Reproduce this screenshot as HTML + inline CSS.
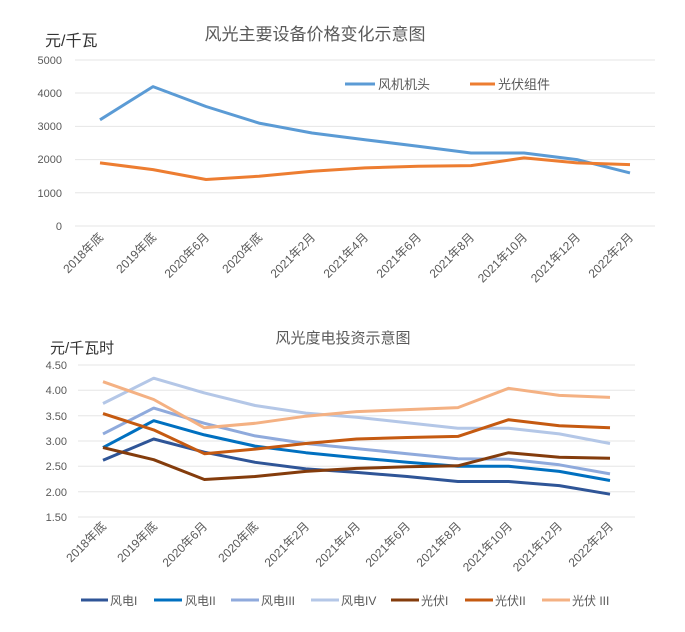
<!DOCTYPE html>
<html><head><meta charset="utf-8"><style>
body{margin:0;background:#fff}
text{font-family:"Liberation Sans","Noto Sans CJK SC",sans-serif}
</style></head><body>
<svg width="685" height="627" xmlns="http://www.w3.org/2000/svg">
<rect width="685" height="627" fill="#fff"/>
<text x="315" y="40" font-size="17" fill="#595959" text-anchor="middle">风光主要设备价格变化示意图</text>
<text x="45" y="46" font-size="16" fill="#333">元/千瓦</text>
<g stroke="#e6e6e6" stroke-width="1">
<line x1="75" x2="655" y1="60" y2="60"/><line x1="75" x2="655" y1="93" y2="93"/><line x1="75" x2="655" y1="126.4" y2="126.4"/><line x1="75" x2="655" y1="159.6" y2="159.6"/><line x1="75" x2="655" y1="192.8" y2="192.8"/><line x1="75" x2="655" y1="226" y2="226"/>
</g>
<g font-size="11" fill="#595959" text-anchor="end">
<text x="62" y="64">5000</text><text x="62" y="97">4000</text><text x="62" y="130">3000</text><text x="62" y="163">2000</text><text x="62" y="197">1000</text><text x="62" y="230">0</text>
</g>
<polyline fill="none" stroke="#5b9bd5" stroke-width="3" stroke-linejoin="round" points="100,119.8 153,86.6 206,106.5 259,123.1 312,133 365,139.7 418,146.3 471,153 524,153 577,159.6 630,172.9"/>
<polyline fill="none" stroke="#ed7d31" stroke-width="3" stroke-linejoin="round" points="100,162.9 153,169.6 206,179.5 259,176.2 312,171.2 365,167.9 418,166.2 471,165.6 524,157.9 577,162.9 630,164.6"/>
<line x1="345" x2="375" y1="84" y2="84" stroke="#5b9bd5" stroke-width="3"/><text x="378" y="89" font-size="13" fill="#595959">风机机头</text>
<line x1="470" x2="495" y1="84" y2="84" stroke="#ed7d31" stroke-width="3"/><text x="498" y="89" font-size="13" fill="#595959">光伏组件</text>
<g font-size="12" fill="#595959" text-anchor="end">
<text transform="translate(104,238) rotate(-45)">2018年底</text>
<text transform="translate(157,238) rotate(-45)">2019年底</text>
<text transform="translate(210,238) rotate(-45)">2020年6月</text>
<text transform="translate(263,238) rotate(-45)">2020年底</text>
<text transform="translate(316,238) rotate(-45)">2021年2月</text>
<text transform="translate(369,238) rotate(-45)">2021年4月</text>
<text transform="translate(422,238) rotate(-45)">2021年6月</text>
<text transform="translate(475,238) rotate(-45)">2021年8月</text>
<text transform="translate(528,238) rotate(-45)">2021年10月</text>
<text transform="translate(581,238) rotate(-45)">2021年12月</text>
<text transform="translate(634,238) rotate(-45)">2022年2月</text>
</g>

<text x="343" y="343" font-size="15" fill="#595959" text-anchor="middle">风光度电投资示意图</text>
<text x="50" y="353" font-size="15" fill="#333">元/千瓦时</text>
<g stroke="#e6e6e6" stroke-width="1">
<line x1="78" x2="635" y1="365" y2="365"/><line x1="78" x2="635" y1="390.3" y2="390.3"/><line x1="78" x2="635" y1="415.7" y2="415.7"/><line x1="78" x2="635" y1="441" y2="441"/><line x1="78" x2="635" y1="466.3" y2="466.3"/><line x1="78" x2="635" y1="491.7" y2="491.7"/><line x1="78" x2="635" y1="517" y2="517"/>
</g>
<g font-size="11" fill="#595959" text-anchor="end">
<text x="67" y="369">4.50</text><text x="67" y="394">4.00</text><text x="67" y="420">3.50</text><text x="67" y="445">3.00</text><text x="67" y="470">2.50</text><text x="67" y="496">2.00</text><text x="67" y="521">1.50</text>
</g>
<g fill="none" stroke-width="3" stroke-linejoin="round">
<polyline stroke="#b4c7e7" points="103,403.5 153.7,378.2 204.4,392.9 255.1,405.5 305.8,413.1 356.5,417.2 407.2,422.8 457.9,428.3 508.6,428.3 559.3,433.9 610,443.5"/>
<polyline stroke="#8faadc" points="103,433.9 153.7,408.1 204.4,423.3 255.1,435.9 305.8,443.5 356.5,448.6 407.2,453.7 457.9,458.7 508.6,459.2 559.3,464.8 610,473.9"/>
<polyline stroke="#0070c0" points="103,447.6 153.7,420.7 204.4,434.9 255.1,446.1 305.8,452.7 356.5,457.7 407.2,462.3 457.9,466.3 508.6,466.3 559.3,471.4 610,480.5"/>
<polyline stroke="#2f5597" points="103,460.3 153.7,439 204.4,452.2 255.1,462.3 305.8,468.9 356.5,472.4 407.2,476.5 457.9,481.5 508.6,481.5 559.3,485.6 610,494.2"/>
<polyline stroke="#f4b183" points="103,381.7 153.7,399.5 204.4,427.8 255.1,423.3 305.8,416.2 356.5,411.6 407.2,409.6 457.9,407.6 508.6,388.3 559.3,395.4 610,397.4"/>
<polyline stroke="#c55a11" points="103,413.6 153.7,429.9 204.4,453.7 255.1,449.1 305.8,443.5 356.5,439 407.2,437.5 457.9,436.4 508.6,419.7 559.3,425.8 610,427.8"/>
<polyline stroke="#843c0c" points="103,447.6 153.7,459.7 204.4,479.5 255.1,476.5 305.8,471.4 356.5,468.4 407.2,466.8 457.9,465.8 508.6,452.7 559.3,457.2 610,458.2"/>
</g>
<g font-size="12" fill="#595959" text-anchor="end">
<text transform="translate(107,527) rotate(-45)">2018年底</text>
<text transform="translate(158,527) rotate(-45)">2019年底</text>
<text transform="translate(208,527) rotate(-45)">2020年6月</text>
<text transform="translate(259,527) rotate(-45)">2020年底</text>
<text transform="translate(310,527) rotate(-45)">2021年2月</text>
<text transform="translate(361,527) rotate(-45)">2021年4月</text>
<text transform="translate(411,527) rotate(-45)">2021年6月</text>
<text transform="translate(462,527) rotate(-45)">2021年8月</text>
<text transform="translate(513,527) rotate(-45)">2021年10月</text>
<text transform="translate(563,527) rotate(-45)">2021年12月</text>
<text transform="translate(614,527) rotate(-45)">2022年2月</text>
</g>
<g font-size="12" fill="#595959" stroke-width="3">
<line x1="81" x2="108" y1="600" y2="600" stroke="#2f5597"/><text x="110" y="605">风电I</text>
<line x1="154" x2="182" y1="600" y2="600" stroke="#0070c0"/><text x="185" y="605">风电II</text>
<line x1="231" x2="259" y1="600" y2="600" stroke="#8faadc"/><text x="261" y="605">风电III</text>
<line x1="311" x2="339" y1="600" y2="600" stroke="#b4c7e7"/><text x="341" y="605">风电IV</text>
<line x1="391" x2="419" y1="600" y2="600" stroke="#843c0c"/><text x="421" y="605">光伏I</text>
<line x1="465" x2="493" y1="600" y2="600" stroke="#c55a11"/><text x="495" y="605">光伏II</text>
<line x1="542" x2="570" y1="600" y2="600" stroke="#f4b183"/><text x="572" y="605">光伏 III</text>
</g>
</svg>
</body></html>
